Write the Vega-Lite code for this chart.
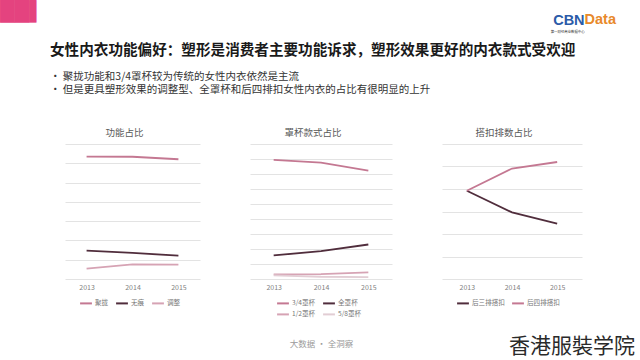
{
  "$schema": "https://vega.github.io/schema/vega-lite/v6.json",
  "padding": {"left": 0, "top": 3, "right": 0, "bottom": 10},
  "autosize": {"type": "pad"},
  "background": "white",
  "config": {
    "font": "Noto Sans CJK SC",
    "view": {"stroke": null},
    "concat": {"spacing": 50},
    "axis": {"labelFont": "Noto Sans CJK SC", "titleFont": "Noto Sans CJK SC"},
    "legend": {
      "orient": "none", "direction": "horizontal", "title": null,
      "labelFont": "Noto Sans CJK SC", "labelFontSize": 6.6, "labelColor": "#767676",
      "symbolType": "stroke", "symbolStrokeWidth": 2, "symbolSize": 140,
      "columnPadding": 3, "labelOffset": 2, "rowPadding": 0, "padding": 0
    },
    "title": {"font": "Noto Sans CJK SC", "subtitleFont": "Noto Sans CJK SC"}
  },
  "datasets": {
    "func": [
      {"year": "2013", "type": "聚拢", "value": 63.5},
      {"year": "2014", "type": "聚拢", "value": 63.4},
      {"year": "2015", "type": "聚拢", "value": 62.1},
      {"year": "2013", "type": "无痕", "value": 14.7},
      {"year": "2014", "type": "无痕", "value": 13.5},
      {"year": "2015", "type": "无痕", "value": 12.1},
      {"year": "2013", "type": "调整", "value": 5.4},
      {"year": "2014", "type": "调整", "value": 7.6},
      {"year": "2015", "type": "调整", "value": 7.5}
    ],
    "cup": [
      {"year": "2013", "type": "3/4罩杯", "value": 79.4},
      {"year": "2014", "type": "3/4罩杯", "value": 77.6},
      {"year": "2015", "type": "3/4罩杯", "value": 72.3},
      {"year": "2013", "type": "全罩杯", "value": 15.7},
      {"year": "2014", "type": "全罩杯", "value": 18.6},
      {"year": "2015", "type": "全罩杯", "value": 23.0},
      {"year": "2013", "type": "1/2罩杯", "value": 3.1},
      {"year": "2014", "type": "1/2罩杯", "value": 3.3},
      {"year": "2015", "type": "1/2罩杯", "value": 4.4},
      {"year": "2013", "type": "5/8罩杯", "value": 2.4},
      {"year": "2014", "type": "5/8罩杯", "value": 1.5},
      {"year": "2015", "type": "5/8罩杯", "value": 1.3}
    ],
    "hook": [
      {"year": "2013", "type": "后三排搭扣", "value": 39.2},
      {"year": "2014", "type": "后三排搭扣", "value": 29.6},
      {"year": "2015", "type": "后三排搭扣", "value": 24.6},
      {"year": "2013", "type": "后四排搭扣", "value": 39.2},
      {"year": "2014", "type": "后四排搭扣", "value": 49.1},
      {"year": "2015", "type": "后四排搭扣", "value": 52.0}
    ]
  },
  "title": {"text": "██▌", "font": "DejaVu Sans", "anchor": "start", "baseline": "top", "fontSize": 19, "color": "#e4437f", "offset": -10, "dx": -50},
  "vconcat": [
    {
      "title": {"text": "香港服裝学院", "orient": "bottom", "anchor": "end", "font": "Noto Sans CJK TC", "fontSize": 21, "fontWeight": "normal", "color": "#2a2a2a", "offset": -13, "dx": 19},
      "vconcat": [
        {
          "title": {"text": "CBN", "subtitle": "第一财经商业数据中心", "anchor": "end", "font": "Liberation Sans", "fontSize": 14.5, "fontWeight": "bold", "color": "#2b5ba8", "subtitleFontSize": 3.4, "subtitleColor": "#333333", "subtitlePadding": 1, "offset": -22, "dx": -31.4},
          "vconcat": [
            {
              "title": {"text": "Data", "anchor": "end", "font": "Liberation Sans", "fontSize": 14.5, "fontWeight": "bold", "color": "#e8892b", "offset": 15.5, "dx": 34},
              "vconcat": [
                {
                  "title": {
                    "text": "女性内衣功能偏好：塑形是消费者主要功能诉求，塑形效果更好的内衣款式受欢迎",
                    "subtitle": ["•     聚拢功能和3/4罩杯较为传统的女性内衣依然是主流", "•     但是更具塑形效果的调整型、全罩杯和后四排扣女性内衣的占比有很明显的上升"],
                    "anchor": "start", "fontSize": 14.6, "fontWeight": "bold", "color": "#1a1a1a",
                    "subtitleFontSize": 10.5, "subtitleColor": "#333333", "subtitlePadding": 14.5, "subtitleLineHeight": 13.3,
                    "offset": 32, "dx": -15
                  },
                  "vconcat": [
                    {
                      "title": {"text": "大数据 · 全洞察", "orient": "bottom", "anchor": "middle", "fontSize": 8.5, "fontWeight": "normal", "color": "#9a9a9a", "offset": 22, "dx": -2},
                      "resolve": {"scale": {"color": "independent"}, "legend": {"color": "independent"}},
                      "hconcat": [
                        {
                          "width": 135, "height": 135,
                          "title": {"text": "功能占比", "fontSize": 9.5, "fontWeight": "normal", "color": "#595959", "offset": 6.5, "dx": -8},
                          "data": {"name": "func"},
                          "mark": {"type": "line", "strokeWidth": 1.8},
                          "encoding": {
                            "x": {"field": "year", "type": "ordinal", "scale": {"type": "point", "padding": 0.47}, "axis": {"title": null, "labelAngle": 0, "labelFontSize": 7, "labelColor": "#7f7f7f", "ticks": false, "domain": false, "grid": false, "labelPadding": 4}},
                            "y": {"field": "value", "type": "quantitative", "scale": {"domain": [0, 70]}, "axis": {"values": [0, 10, 20, 30, 40, 50, 60, 70], "title": null, "labels": false, "ticks": false, "domain": false, "gridColor": "#e3e3e3"}},
                            "color": {"field": "type", "type": "nominal", "scale": {"domain": ["聚拢", "无痕", "调整"], "range": ["#c47892", "#502d3c", "#d6a3b4"]}, "legend": {"legendX": 14, "legendY": 152.4}}
                          }
                        },
                        {
                          "width": 142, "height": 135,
                          "title": {"text": "罩杯款式占比", "fontSize": 9.5, "fontWeight": "normal", "color": "#595959", "offset": 6.5, "dx": -8},
                          "data": {"name": "cup"},
                          "mark": {"type": "line", "strokeWidth": 1.8},
                          "encoding": {
                            "x": {"field": "year", "type": "ordinal", "scale": {"type": "point", "padding": 0.5}, "axis": {"title": null, "labelAngle": 0, "labelFontSize": 7, "labelColor": "#7f7f7f", "ticks": false, "domain": false, "grid": false, "labelPadding": 4}},
                            "y": {"field": "value", "type": "quantitative", "scale": {"domain": [0, 90]}, "axis": {"values": [0, 10, 20, 30, 40, 50, 60, 70, 80, 90], "title": null, "labels": false, "ticks": false, "domain": false, "gridColor": "#e3e3e3"}},
                            "color": {"field": "type", "type": "nominal", "scale": {"domain": ["3/4罩杯", "全罩杯", "1/2罩杯", "5/8罩杯"], "range": ["#c47892", "#502d3c", "#d6a3b4", "#e2cdd4"]}, "legend": {"columns": 2, "legendX": 26, "legendY": 152.4}}
                          }
                        },
                        {
                          "width": 140, "height": 135,
                          "title": {"text": "搭扣排数占比", "fontSize": 9.5, "fontWeight": "normal", "color": "#595959", "offset": 6.5, "dx": -8},
                          "data": {"name": "hook"},
                          "mark": {"type": "line", "strokeWidth": 1.8},
                          "encoding": {
                            "x": {"field": "year", "type": "ordinal", "scale": {"type": "point", "padding": 0.55}, "axis": {"title": null, "labelAngle": 0, "labelFontSize": 7, "labelColor": "#7f7f7f", "ticks": false, "domain": false, "grid": false, "labelPadding": 4}},
                            "y": {"field": "value", "type": "quantitative", "scale": {"domain": [0, 60]}, "axis": {"values": [0, 10, 20, 30, 40, 50, 60], "title": null, "labels": false, "ticks": false, "domain": false, "gridColor": "#e3e3e3"}},
                            "color": {"field": "type", "type": "nominal", "scale": {"domain": ["后三排搭扣", "后四排搭扣"], "range": ["#502d3c", "#c47892"]}, "legend": {"legendX": 14, "legendY": 152.4}}
                          }
                        }
                      ]
                    }
                  ]
                }
              ]
            }
          ]
        }
      ]
    }
  ]
}
